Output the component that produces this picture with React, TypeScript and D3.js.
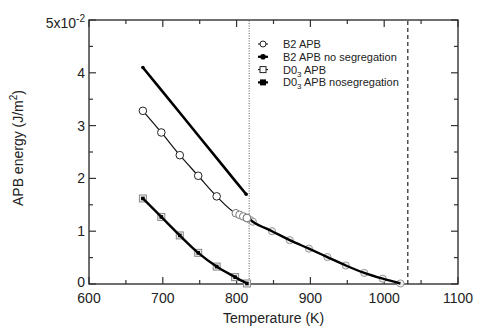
import React, { useEffect, useRef } from 'react'
import * as d3 from 'd3'

// temperatures (K) and APB energies (x10^-2 J/m^2)
const b2Temps = [673, 698, 723, 748, 773, 799, 804, 809, 814, 819, 822, 848, 872, 898, 923, 948, 973, 998, 1022]
const b2Apb = [3.28, 2.87, 2.44, 2.05, 1.66, 1.34, 1.31, 1.28, 1.25, 1.21, 1.18, 1.0, 0.83, 0.67, 0.51, 0.35, 0.21, 0.1, 0.01]

const b2NoSegTemps = [673, 700, 725, 750, 775, 800, 813]
const b2NoSeg = [4.1, 3.64, 3.21, 2.78, 2.35, 1.92, 1.7]

const d03Temps = [673, 698, 723, 748, 773, 798, 814]
const d03Apb = [1.62, 1.27, 0.92, 0.59, 0.33, 0.13, 0.01]
const d03NoSeg = [1.62, 1.27, 0.92, 0.59, 0.33, 0.13, 0.01]

const xTicks = [600, 700, 800, 900, 1000, 1100]
const yTicks = [0, 1, 2, 3, 4]
const orderTemp = 817
const meltTemp = 1032

const legendItems = ['B2 APB', 'B2 APB  no segregation', 'D0|APB', 'D0|APB nosegregation']

export default function App() {
  const ref = useRef<SVGSVGElement>(null)

  useEffect(() => {
    if (!ref.current) return
    const width = 477
    const height = 329
    const m = { left: 89, right: 19, top: 20, bottom: 45 }
    const svg = d3.select(ref.current)
    svg.selectAll('*').remove()
    svg.attr('width', width).attr('height', height)

    const x = d3.scaleLinear().domain([600, 1100]).range([m.left, width - m.right])
    const y = d3.scaleLinear().domain([0, 5]).range([height - m.bottom, m.top])
    const font = 'Liberation Sans, Arial, sans-serif'
    const axisColor = '#333'

    const g = svg.append('g')

    // frame
    g.append('rect')
      .attr('x', x(600)).attr('y', y(5))
      .attr('width', x(1100) - x(600)).attr('height', y(0) - y(5))
      .attr('fill', 'none').attr('stroke', axisColor).attr('stroke-width', 1.4)

    // ticks (inward, mirrored)
    const xMinor = d3.range(600, 1101, 50)
    xMinor.forEach((t) => {
      const len = t % 100 === 0 ? 7 : 4
      g.append('line').attr('x1', x(t)).attr('x2', x(t)).attr('y1', y(0)).attr('y2', y(0) - len)
        .attr('stroke', axisColor).attr('stroke-width', 1.2)
      g.append('line').attr('x1', x(t)).attr('x2', x(t)).attr('y1', y(5)).attr('y2', y(5) + len)
        .attr('stroke', axisColor).attr('stroke-width', 1.2)
    })
    const yMinor = d3.range(0, 5.01, 0.5)
    yMinor.forEach((v) => {
      const len = Math.abs(v - Math.round(v)) < 1e-6 ? 7 : 4
      g.append('line').attr('x1', x(600)).attr('x2', x(600) + len).attr('y1', y(v)).attr('y2', y(v))
        .attr('stroke', axisColor).attr('stroke-width', 1.2)
      g.append('line').attr('x1', x(1100)).attr('x2', x(1100) - len).attr('y1', y(v)).attr('y2', y(v))
        .attr('stroke', axisColor).attr('stroke-width', 1.2)
    })

    // tick labels
    g.selectAll('.xl').data(xTicks).enter().append('text')
      .attr('x', (d) => x(d)).attr('y', y(0) + 19)
      .attr('text-anchor', 'middle').attr('font-family', font).attr('font-size', 14).attr('fill', '#222')
      .text((d) => d)
    g.selectAll('.yl').data(yTicks).enter().append('text')
      .attr('x', x(600) - 4).attr('y', (d) => y(d) + (d === 0 ? 3 : 5))
      .attr('text-anchor', 'end').attr('font-family', font).attr('font-size', 14).attr('fill', '#222')
      .text((d) => d)
    const top = g.append('text').attr('x', x(600) - 4).attr('y', y(5) + 8)
      .attr('text-anchor', 'end').attr('font-family', font).attr('font-size', 14).attr('fill', '#222')
    top.append('tspan').text('5x10')
    top.append('tspan').attr('dy', -6).attr('font-size', 10).text('-2')

    // axis titles
    const xt = g.append('text').attr('x', (x(600) + x(1100)) / 2).attr('y', 323)
      .attr('text-anchor', 'middle').attr('font-family', font).attr('font-size', 14).attr('fill', '#222')
    xt.text('Temperature (K)')
    const yt = g.append('text').attr('transform', `translate(23,${(y(0) + y(5)) / 2 - 4}) rotate(-90)`)
      .attr('text-anchor', 'middle').attr('font-family', font).attr('font-size', 14).attr('fill', '#222')
    yt.append('tspan').text('APB energy (J/m')
    yt.append('tspan').attr('dy', -6).attr('font-size', 10).text('2')
    yt.append('tspan').attr('dy', 6).text(')')

    // reference vertical lines
    g.append('line').attr('x1', x(orderTemp)).attr('x2', x(orderTemp)).attr('y1', y(0)).attr('y2', y(5))
      .attr('stroke', '#555').attr('stroke-width', 1).attr('stroke-dasharray', '1,1.5')
    g.append('line').attr('x1', x(meltTemp)).attr('x2', x(meltTemp)).attr('y1', y(0)).attr('y2', y(5))
      .attr('stroke', '#222').attr('stroke-width', 1.2).attr('stroke-dasharray', '4,3')

    const straight = d3.line<[number, number]>().x((d) => x(d[0])).y((d) => y(d[1]))
    const smooth = d3.line<[number, number]>().x((d) => x(d[0])).y((d) => y(d[1])).curve(d3.curveMonotoneX)

    const b2Pts = b2Temps.map((t, i) => [t, b2Apb[i]] as [number, number])
    const b2Low = b2Pts.filter((p) => p[0] < orderTemp)
    const b2High = b2Pts.filter((p) => p[0] >= orderTemp - 3)
    const noSegPts = b2NoSegTemps.map((t, i) => [t, b2NoSeg[i]] as [number, number])
    const d03Pts = d03Temps.map((t, i) => [t, d03Apb[i]] as [number, number])
    const d03NoPts = d03Temps.map((t, i) => [t, d03NoSeg[i]] as [number, number])

    // B2 APB below order temperature: thin line, open circles
    g.append('path').attr('d', smooth(b2Low.concat([b2High[0]]))).attr('fill', 'none')
      .attr('stroke', '#111').attr('stroke-width', 1.2)
    // gray markers above the transition, under the heavy line
    g.selectAll('.gc').data(b2High.slice(1)).enter().append('circle')
      .attr('cx', (d) => x(d[0])).attr('cy', (d) => y(d[1])).attr('r', 3.6)
      .attr('fill', '#eee').attr('stroke', '#999').attr('stroke-width', 1)
    g.append('path').attr('d', smooth(b2High)).attr('fill', 'none')
      .attr('stroke', '#000').attr('stroke-width', 2.4)
    g.selectAll('.oc').data(b2Low.concat([b2High[0]])).enter().append('circle')
      .attr('cx', (d) => x(d[0])).attr('cy', (d) => y(d[1])).attr('r', 3.8)
      .attr('fill', '#fff').attr('stroke', (d) => (d[0] > 795 ? '#777' : '#222')).attr('stroke-width', 1)

    // B2 no segregation
    g.append('path').attr('d', straight(noSegPts)).attr('fill', 'none')
      .attr('stroke', '#000').attr('stroke-width', 2.6)
    g.selectAll('.fc').data([noSegPts[0], noSegPts[noSegPts.length - 1]]).enter().append('circle')
      .attr('cx', (d) => x(d[0])).attr('cy', (d) => y(d[1])).attr('r', 1.8).attr('fill', '#000')

    // D0_3 APB open squares and no-segregation heavy line
    g.selectAll('.os').data(d03Pts).enter().append('rect')
      .attr('x', (d) => x(d[0]) - 3.5).attr('y', (d) => y(d[1]) - 3.5).attr('width', 7).attr('height', 7)
      .attr('fill', '#eee').attr('stroke', '#888').attr('stroke-width', 1)
    g.append('path').attr('d', smooth(d03NoPts)).attr('fill', 'none')
      .attr('stroke', '#000').attr('stroke-width', 2.4)
    g.selectAll('.fs').data(d03NoPts).enter().append('rect')
      .attr('x', (d) => x(d[0]) - 1.8).attr('y', (d) => y(d[1]) - 1.8).attr('width', 3.6).attr('height', 3.6)
      .attr('fill', '#000')

    // legend
    const lx = 258
    legendItems.forEach((label, i) => {
      const ly = 44 + i * 12.8
      const lg = g.append('g')
      const heavy = i % 2 === 1
      lg.append('line').attr('x1', lx).attr('x2', lx + 10).attr('y1', ly).attr('y2', ly)
        .attr('stroke', '#000').attr('stroke-width', heavy ? 2.2 : 1)
      if (i === 0) lg.append('circle').attr('cx', lx + 5).attr('cy', ly).attr('r', 3).attr('fill', '#fff').attr('stroke', '#222')
      if (i === 1) lg.append('circle').attr('cx', lx + 5).attr('cy', ly).attr('r', 2.8).attr('fill', '#000')
      if (i === 2) lg.append('rect').attr('x', lx + 2).attr('y', ly - 3).attr('width', 6).attr('height', 6).attr('fill', '#fff').attr('stroke', '#222')
      if (i === 3) lg.append('rect').attr('x', lx + 2).attr('y', ly - 3).attr('width', 6).attr('height', 6).attr('fill', '#000')
      const t = lg.append('text').attr('x', lx + 25).attr('y', ly + 4)
        .attr('font-family', font).attr('font-size', 11).attr('fill', '#222')
      if (label.includes('|')) {
        const [a, b] = label.split('|')
        t.append('tspan').text(a)
        t.append('tspan').attr('dy', 3).attr('font-size', 8).text('3')
        t.append('tspan').attr('dy', -3).text(' ' + b)
      } else {
        t.text(label)
      }
    })
  }, [])

  return <svg ref={ref} style={{ position: 'absolute', left: 0, top: 0, background: '#fff' }} />
}
